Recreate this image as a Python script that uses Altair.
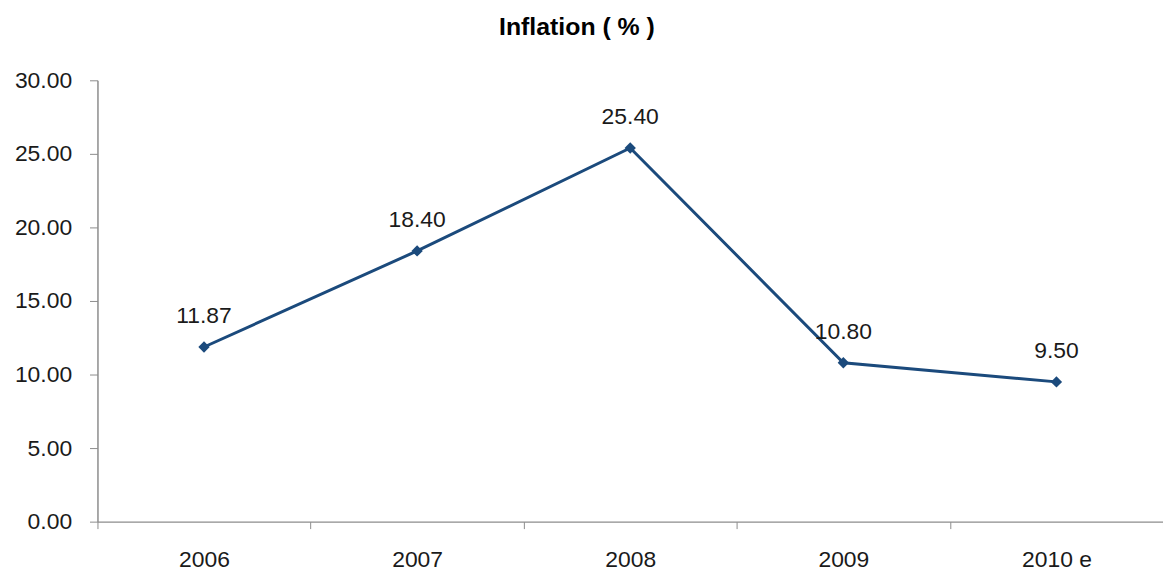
import altair as alt
import pandas as pd

years = ["2006", "2007", "2008", "2009", "2010 e"]
inflation = [11.87, 18.40, 25.40, 10.80, 9.50]
labels = ["11.87", "18.40", "25.40", "10.80", "9.50"]

df = pd.DataFrame({"year": years, "value": inflation, "label": labels})

FONT = "Liberation Sans"
LINE = "#1B4A7C"
AXIS = "#8C8C8C"

x = alt.X(
    "year:N",
    sort=years,
    title=None,
    scale=alt.Scale(type="band", paddingInner=0, paddingOuter=0),
    axis=alt.Axis(
        tickBand="extent",
        labelAngle=0,
        labelFont=FONT,
        labelFontSize=23,
        labelColor="#1a1a1a",
        labelPadding=20,
        tickSize=7,
        tickColor=AXIS,
        domainColor=AXIS,
        domainWidth=1.5,
        grid=False,
    ),
)
y = alt.Y(
    "value:Q",
    title=None,
    scale=alt.Scale(domain=[0, 30], nice=False),
    axis=alt.Axis(
        values=[0, 5, 10, 15, 20, 25, 30],
        format=".2f",
        labelFont=FONT,
        labelFontSize=23,
        labelColor="#1a1a1a",
        labelPadding=18,
        tickSize=8,
        tickColor=AXIS,
        domainColor=AXIS,
        domainWidth=1.5,
        grid=False,
    ),
)

base = alt.Chart(df).encode(x=x, y=y)

line = base.mark_line(color=LINE, strokeWidth=3)
points = base.mark_point(shape="diamond", filled=True, color=LINE, size=130, opacity=1)
text = base.mark_text(
    font=FONT, fontSize=23, color="#1a1a1a", baseline="alphabetic", dy=-24
).encode(text="label:N")

chart = (
    alt.layer(line, points, text)
    .properties(
        width=1072,
        height=444,
        background="white",
        autosize=alt.AutoSizeParams(type="none"),
        padding={"left": 90, "top": 71, "right": 0, "bottom": 60},
        title=alt.TitleParams(
            text="Inflation ( % )",
            font=FONT,
            fontSize=25,
            fontWeight="bold",
            color="#000000",
            anchor="start",
            frame="group",
            dx=404,
            offset=30,
        ),
    )
    .configure_view(stroke=None, strokeWidth=0)
)

chart.save("out.html", embed_options={"renderer": "svg", "actions": False})
